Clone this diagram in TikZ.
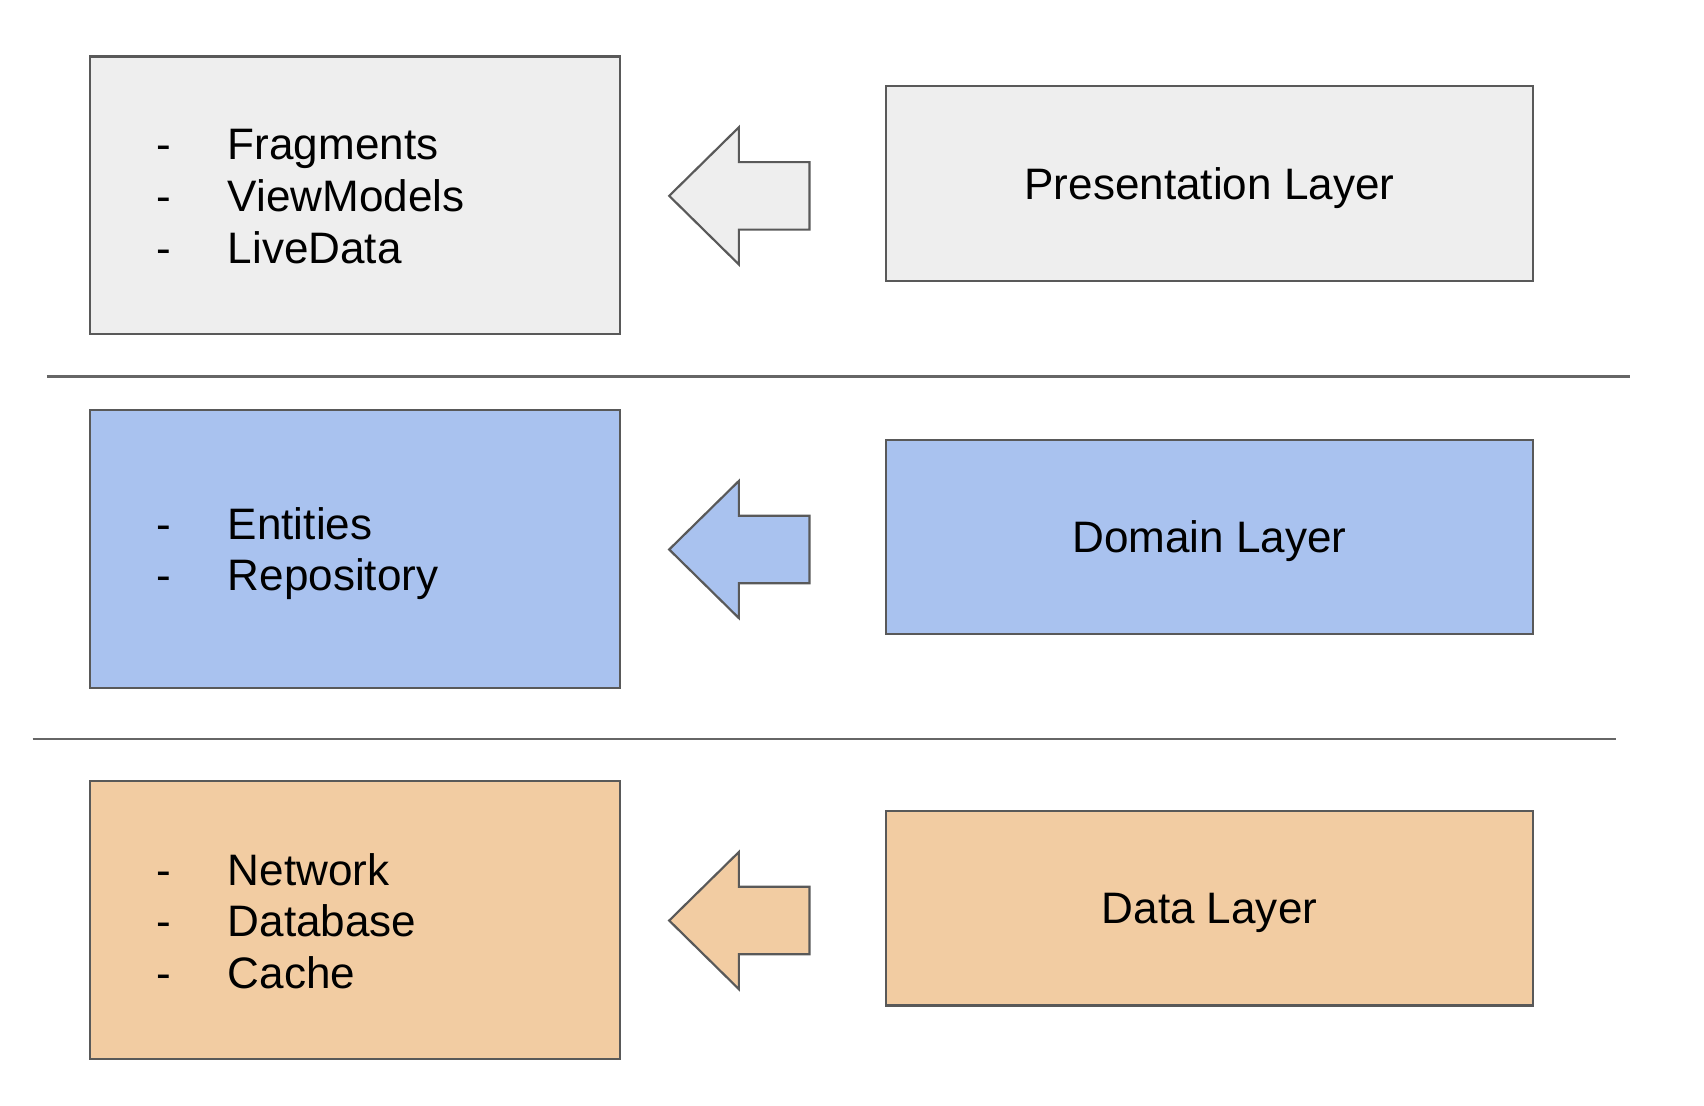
\documentclass[tikz,border=0pt]{standalone}
\usepackage{fontspec}
\setmainfont{Liberation Sans}
\definecolor{grayfill}{HTML}{EEEEEE}
\definecolor{bluefill}{HTML}{A9C2EF}
\definecolor{orangefill}{HTML}{F2CCA2}
\definecolor{edge}{HTML}{595959}
\definecolor{sepline}{HTML}{666666}
\newcommand\layerarrow[2]{% #1 tip y, #2 fill colour
  \draw[arrowshape, fill=#2] (615,#1) -- (679,#1-63) -- (679,#1-31) -- (744,#1-31)
    -- (744,#1+31) -- (679,#1+31) -- (679,#1+63) -- cycle;}
\begin{document}
\begin{tikzpicture}[x=0.5pt, y=-0.5pt,
  lbl/.style={font=\fontsize{20.25pt}{24pt}\selectfont, text=black},
  box/.style={draw=edge, line width=1pt, inner sep=0pt},
  leftbox/.style={box, minimum width=243.5pt, minimum height=127.5pt},
  layerbox/.style={box, lbl, minimum width=297.5pt, minimum height=89.5pt,
    text height=14.5pt, text depth=0pt},
  listitem/.style={lbl, anchor=base west, inner sep=0pt},
  arrowshape/.style={draw=edge, line width=1pt, line join=miter},
  separator/.style={draw=sepline, line width=1.1pt}]
\useasboundingbox (0,0) rectangle (1566,1016);

% Presentation row
\node[leftbox, fill=grayfill] (pbox) at (326.5,179.5) {};
\node[layerbox, fill=grayfill] (player) at (1111.5,168.5) {Presentation Layer};
\node[listitem] (p1) at (143,147) {\makebox[33pt][l]{-}Fragments};
\node[listitem] (p2) at (143,194.5) {\makebox[33pt][l]{-}ViewModels};
\node[listitem] (p3) at (143,242) {\makebox[33pt][l]{-}LiveData};
\layerarrow{180}{grayfill}

\coordinate (s1a) at (43,346);
\coordinate (s1b) at (1498,346);
\draw[separator] (s1a) -- (s1b);

% Domain row
\node[leftbox, fill=bluefill] (dbox) at (326.5,504.5) {};
\node[layerbox, fill=bluefill] (dlayer) at (1111.5,493.5) {Domain Layer};
\node[listitem] (d1) at (143,495.5) {\makebox[33pt][l]{-}Entities};
\node[listitem] (d2) at (143,543) {\makebox[33pt][l]{-}Repository};
\layerarrow{505}{bluefill}

\coordinate (s2a) at (30,679);
\coordinate (s2b) at (1485,679);
\draw[separator] (s2a) -- (s2b);

% Data row
\node[leftbox, fill=orangefill] (abox) at (326.5,845.5) {};
\node[layerbox, fill=orangefill] (alayer) at (1111.5,834.5) {Data Layer};
\node[listitem] (a1) at (143,813.6) {\makebox[33pt][l]{-}Network};
\node[listitem] (a2) at (143,861.1) {\makebox[33pt][l]{-}Database};
\node[listitem] (a3) at (143,908.6) {\makebox[33pt][l]{-}Cache};
\layerarrow{846}{orangefill}
\end{tikzpicture}
\end{document}
